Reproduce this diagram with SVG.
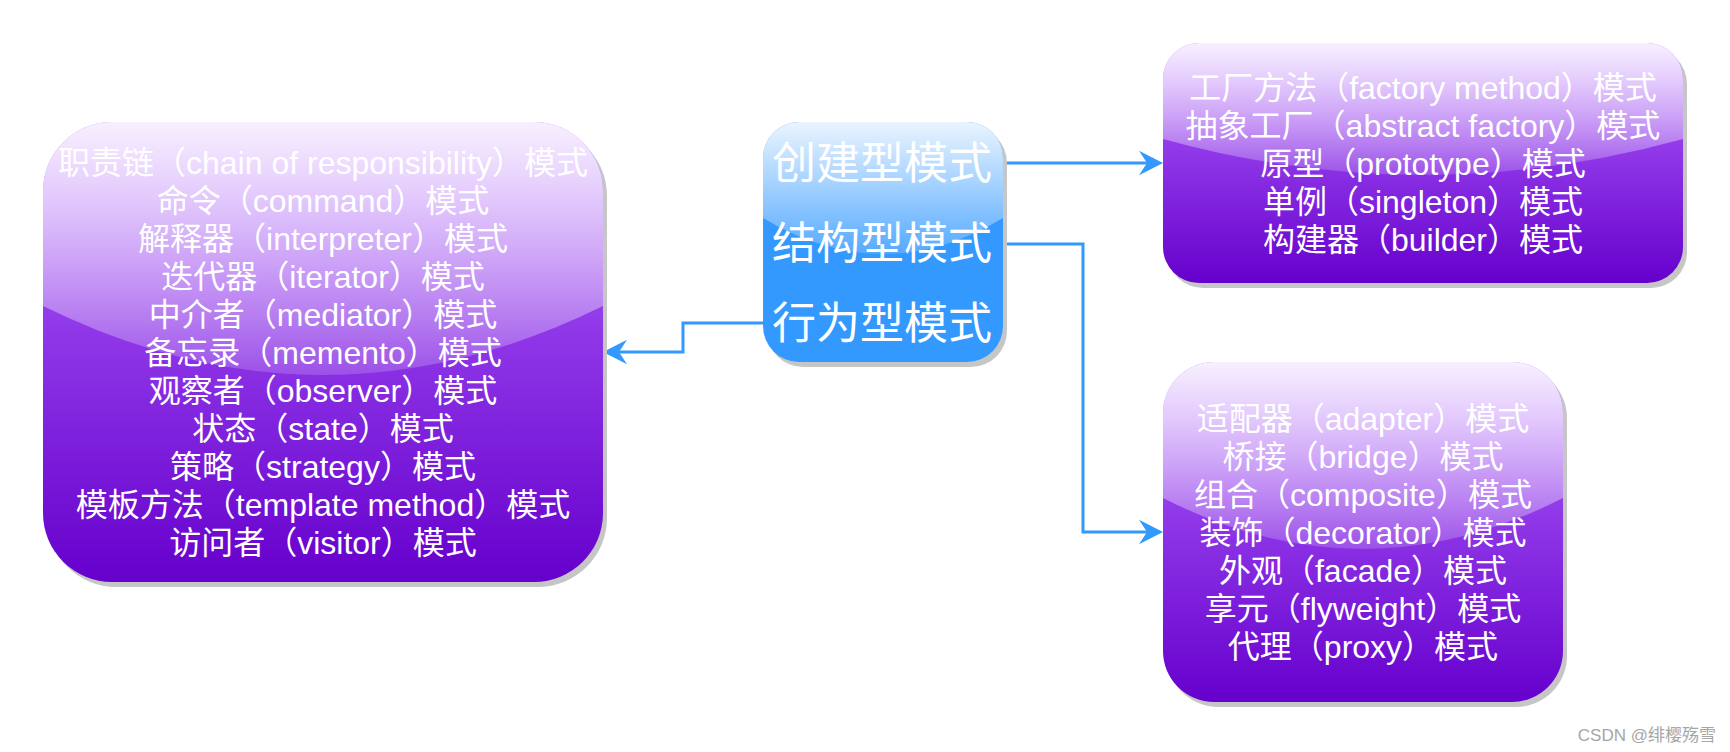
<svg xmlns="http://www.w3.org/2000/svg" width="1730" height="752" viewBox="0 0 1730 752">
<style>
.t{font-family:"Liberation Sans","Noto Sans CJK SC",sans-serif;fill:#ffffff;text-anchor:middle;font-size:32px}
.big{font-size:44px}
.shadow{fill:#c6c6c6}
.purple{fill:url(#purpleGrad)}
.blue{fill:#3399ff}
.glass{fill:url(#glassGrad)}
.conn{fill:none;stroke:#3399ff;stroke-width:3;marker-end:url(#arrow)}
.wm{font-family:"Liberation Sans","Noto Sans CJK SC",sans-serif;font-size:17px;fill:#a6a6a6;text-anchor:end}
</style>
<defs>
<linearGradient id="purpleGrad" x1="0" y1="0" x2="0" y2="1">
<stop offset="0" stop-color="#b266ff"/>
<stop offset="1" stop-color="#6600cc"/>
</linearGradient>
<linearGradient id="glassGrad" x1="0" y1="0" x2="0" y2="1.0909">
<stop offset="0" stop-color="#ffffff" stop-opacity="0.9"/>
<stop offset="1" stop-color="#ffffff" stop-opacity="0.1"/>
</linearGradient>
<marker id="arrow" markerUnits="userSpaceOnUse" viewBox="-9 -13 26 26" markerWidth="26" markerHeight="26" refX="0" refY="0" orient="auto">
<path d="M16,0 L-8,-12.3 L0,0 L-8,12.3 Z" fill="#3399ff"/>
</marker>
</defs>
<rect width="1730" height="752" fill="#ffffff"/>

<g id="connectors">
<path class="conn" d="M1003,163 H1147"/>
<path class="conn" d="M1003,244 H1083 V532 H1147"/>
<path class="conn" d="M763,323 H683 V352 H619"/>
</g>

<g id="behavioral">
<rect class="shadow" x="47" y="127" width="560" height="460" rx="69" ry="69"/>
<rect class="purple" x="43" y="122" width="560" height="460" rx="69" ry="69"/>
<path class="glass" d="M43,191 A69,69 0 0 1 112,122 H534 A69,69 0 0 1 603,191 V306 Q323,444 43,306 Z"/>
<text class="t" x="323" y="174">职责链（chain of responsibility）模式</text>
<text class="t" x="323" y="212">命令（command）模式</text>
<text class="t" x="323" y="250">解释器（interpreter）模式</text>
<text class="t" x="323" y="288">迭代器（iterator）模式</text>
<text class="t" x="323" y="326">中介者（mediator）模式</text>
<text class="t" x="323" y="364">备忘录（memento）模式</text>
<text class="t" x="323" y="402">观察者（observer）模式</text>
<text class="t" x="323" y="440">状态（state）模式</text>
<text class="t" x="323" y="478">策略（strategy）模式</text>
<text class="t" x="323" y="516">模板方法（template method）模式</text>
<text class="t" x="323" y="554">访问者（visitor）模式</text>
</g>

<g id="patterns">
<rect class="shadow" x="767" y="127" width="240" height="240" rx="36" ry="36"/>
<rect class="blue" x="763" y="122" width="240" height="240" rx="36" ry="36"/>
<path class="glass" d="M763,158 A36,36 0 0 1 799,122 H967 A36,36 0 0 1 1003,158 V218 Q883,290 763,218 Z"/>
<text class="t big" x="882" y="179">创建型模式</text>
<text class="t big" x="882" y="259">结构型模式</text>
<text class="t big" x="882" y="339">行为型模式</text>
</g>

<g id="creational">
<rect class="shadow" x="1167" y="48" width="520" height="240" rx="36" ry="36"/>
<rect class="purple" x="1163" y="43" width="520" height="240" rx="36" ry="36"/>
<path class="glass" d="M1163,79 A36,36 0 0 1 1199,43 H1647 A36,36 0 0 1 1683,79 V139 Q1423,211 1163,139 Z"/>
<text class="t" x="1423" y="99">工厂方法（factory method）模式</text>
<text class="t" x="1423" y="137">抽象工厂（abstract factory）模式</text>
<text class="t" x="1423" y="175">原型（prototype）模式</text>
<text class="t" x="1423" y="213">单例（singleton）模式</text>
<text class="t" x="1423" y="251">构建器（builder）模式</text>
</g>

<g id="structural">
<rect class="shadow" x="1167" y="367" width="400" height="340" rx="51" ry="51"/>
<rect class="purple" x="1163" y="362" width="400" height="340" rx="51" ry="51"/>
<path class="glass" d="M1163,413 A51,51 0 0 1 1214,362 H1512 A51,51 0 0 1 1563,413 V498 Q1363,600 1163,498 Z"/>
<text class="t" x="1363" y="430">适配器（adapter）模式</text>
<text class="t" x="1363" y="468">桥接（bridge）模式</text>
<text class="t" x="1363" y="506">组合（composite）模式</text>
<text class="t" x="1363" y="544">装饰（decorator）模式</text>
<text class="t" x="1363" y="582">外观（facade）模式</text>
<text class="t" x="1363" y="620">享元（flyweight）模式</text>
<text class="t" x="1363" y="658">代理（proxy）模式</text>
</g>

<text class="wm" x="1716" y="741">CSDN @绯樱殇雪</text>
</svg>
